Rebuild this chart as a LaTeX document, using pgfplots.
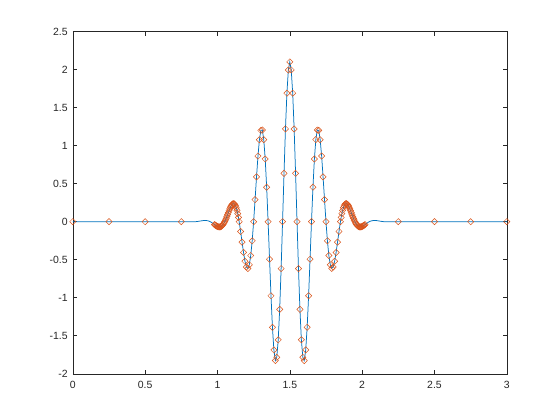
\documentclass[border=0pt]{standalone}
\usepackage{pgfplots}
\usepackage{pgfplotstable}
\pgfplotsset{compat=1.18}
\usepackage{fontspec}
\setmainfont{Liberation Sans}
\definecolor{mblue}{rgb}{0,0.447,0.741}
\definecolor{morange}{rgb}{0.85,0.325,0.098}
\definecolor{axgray}{rgb}{0.15,0.15,0.15}
\pgfplotstableread{
x y m
0 0 1
0.25 0 1
0.5 0 1
0.75 0 1
0.85 0 0
0.86 0.002 0
0.87 0.005 0
0.88 0.008 0
0.89 0.011 0
0.90 0.014 0
0.91 0.015 0
0.92 0.015 0
0.93 0.013 0
0.94 0.008 0
0.95 0 0
0.96 -0.011 0
0.97 -0.024 0
0.98 -0.039 1
0.985 -0.046 1
0.99 -0.052 1
0.995 -0.058 1
1.00 -0.063 1
1.005 -0.067 1
1.01 -0.069 1
1.015 -0.069 1
1.02 -0.068 1
1.025 -0.063 1
1.03 -0.056 1
1.035 -0.046 1
1.04 -0.034 1
1.045 -0.018 1
1.05 0 1
1.055 0.021 1
1.06 0.043 1
1.065 0.067 1
1.07 0.093 1
1.075 0.118 1
1.08 0.144 1
1.085 0.168 1
1.09 0.190 1
1.095 0.209 1
1.10 0.224 1
1.105 0.233 1
1.11 0.237 1
1.115 0.235 1
1.12 0.225 1
1.125 0.207 1
1.13 0.182 1
1.135 0.148 1
1.14 0.106 1
1.145 0.056 1
1.15 0 1
1.16 -0.129 1
1.17 -0.269 1
1.18 -0.405 1
1.19 -0.520 1
1.20 -0.596 1
1.21 -0.615 1
1.22 -0.567 1
1.23 -0.445 1
1.24 -0.252 1
1.25 0 1
1.26 0.290 1
1.27 0.589 1
1.28 0.863 1
1.29 1.077 1
1.30 1.200 1
1.31 1.205 1
1.32 1.079 1
1.33 0.824 1
1.34 0.453 1
1.35 0 1
1.36 -0.493 1
1.37 -0.974 1
1.38 -1.389 1
1.39 -1.686 1
1.40 -1.826 1
1.41 -1.783 1
1.42 -1.553 1
1.43 -1.153 1
1.44 -0.617 1
1.45 0 1
1.46 0.635 1
1.47 1.219 1
1.48 1.689 1
1.49 1.994 1
1.50 2.100 1
1.51 1.994 1
1.52 1.689 1
1.53 1.219 1
1.54 0.635 1
1.55 0 1
1.56 -0.617 1
1.57 -1.153 1
1.58 -1.553 1
1.59 -1.783 1
1.60 -1.826 1
1.61 -1.686 1
1.62 -1.389 1
1.63 -0.974 1
1.64 -0.493 1
1.65 0 1
1.66 0.453 1
1.67 0.824 1
1.68 1.079 1
1.69 1.205 1
1.70 1.200 1
1.71 1.077 1
1.72 0.863 1
1.73 0.589 1
1.74 0.290 1
1.75 0 1
1.76 -0.252 1
1.77 -0.445 1
1.78 -0.567 1
1.79 -0.615 1
1.80 -0.596 1
1.81 -0.520 1
1.82 -0.405 1
1.83 -0.269 1
1.84 -0.129 1
1.85 0 1
1.855 0.056 1
1.86 0.106 1
1.865 0.148 1
1.87 0.182 1
1.875 0.207 1
1.88 0.225 1
1.885 0.235 1
1.89 0.237 1
1.895 0.233 1
1.90 0.224 1
1.905 0.209 1
1.91 0.190 1
1.915 0.168 1
1.92 0.144 1
1.925 0.118 1
1.93 0.093 1
1.935 0.067 1
1.94 0.043 1
1.945 0.021 1
1.95 0 1
1.955 -0.018 1
1.96 -0.034 1
1.965 -0.046 1
1.97 -0.056 1
1.975 -0.063 1
1.98 -0.068 1
1.985 -0.069 1
1.99 -0.069 1
1.995 -0.067 1
2.00 -0.063 1
2.005 -0.058 1
2.01 -0.052 1
2.015 -0.046 1
2.02 -0.039 1
2.03 -0.024 0
2.04 -0.011 0
2.05 0 0
2.06 0.008 0
2.07 0.013 0
2.08 0.015 0
2.09 0.015 0
2.10 0.014 0
2.11 0.011 0
2.12 0.008 0
2.13 0.005 0
2.14 0.002 0
2.15 0 0
2.25 0 1
2.5 0 1
2.75 0 1
3 0 1
}\data
\begin{document}
\begin{tikzpicture}
\begin{axis}[
  scale only axis,
  width=434bp, height=342.3bp,
  xmin=0, xmax=3, ymin=-2, ymax=2.5,
  xtick={0,0.5,1,1.5,2,2.5,3},
  ytick={-2,-1.5,-1,-0.5,0,0.5,1,1.5,2,2.5},
  tick align=inside,
  major tick length=4.3bp,
  minor tick num=0,
  axis line style={draw=axgray, line width=0.6bp},
  every tick/.style={draw=axgray, line width=0.6bp},
  /pgf/number format/assume math mode=true,
  tick label style={font=\fontsize{10.5}{12}\selectfont, text=axgray},
  yticklabel style={inner sep=0pt, xshift=-5bp},
  xticklabel style={inner sep=0pt, yshift=-7bp},
  clip=false,
]
\addplot[color=mblue, line width=0.75bp] table[x=x, y=y] {\data};
\addplot[only marks, color=morange, mark=square, mark size=2.2bp,
  mark options={rotate=45, line width=0.5bp, fill=none},
  x filter/.expression={\thisrow{m}>0 ? x : nan}] table[x=x, y=y] {\data};
\end{axis}
\path ([shift={(-72.8bp,-46.2bp)}]current axis.south west) rectangle ([shift={(53.2bp,31.5bp)}]current axis.north east);
\end{tikzpicture}
\end{document}
